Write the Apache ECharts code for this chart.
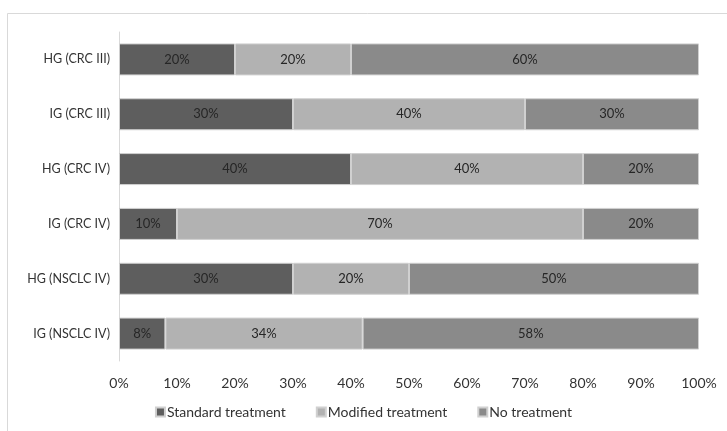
<!DOCTYPE html>
<html>
<head>
<meta charset="utf-8">
<script src="https://cdn.jsdelivr.net/npm/echarts@6/dist/echarts.min.js"></script>
<style>
  html, body { margin: 0; padding: 0; background: #fff; }
  #chart { width: 727px; height: 431px; }
</style>
</head>
<body>
<div id="chart"></div>
<script>
// Treatment distribution per group (percent of patients)
const categories = ['HG (CRC III)', 'IG (CRC III)', 'HG (CRC IV)', 'IG (CRC IV)', 'HG (NSCLC IV)', 'IG (NSCLC IV)'];
const standardTreatment = [20, 30, 40, 10, 30, 8];
const modifiedTreatment = [20, 40, 40, 70, 20, 34];
const noTreatment = [60, 30, 20, 20, 50, 58];
const seriesNames = ['Standard treatment', 'Modified treatment', 'No treatment'];
const seriesColors = ['#5e5e5e', '#b2b2b2', '#8a8a8a'];

const chart = echarts.init(document.getElementById('chart'), null, { renderer: 'canvas' });
const FONT = 'Lato, "Open Sans", sans-serif';

function barSeries(name, data, color) {
  return {
    name: name,
    type: 'bar',
    stack: 'total',
    data: data,
    barWidth: 32,
    itemStyle: { color: color, borderColor: '#d0d0d0', borderWidth: 1 },
    label: {
      show: true,
      position: 'inside',
      formatter: p => p.value + '%',
      color: '#262626',
      fontFamily: FONT,
      fontSize: 13
    },
    emphasis: { disabled: true }
  };
}

chart.setOption({
  animation: false,
  backgroundColor: '#ffffff',
  graphic: [{
    type: 'rect',
    shape: { x: 7.5, y: 13.5, width: 740, height: 440 },
    style: { fill: 'none', stroke: '#d9d9d9', lineWidth: 1 },
    silent: true
  }],
  grid: { left: 119, right: 28, top: 32, bottom: 70, containLabel: false },
  legend: {
    data: seriesNames,
    bottom: 7,
    left: 'center',
    itemWidth: 9,
    itemHeight: 9,
    itemGap: 30,
    icon: 'rect',
    textStyle: { color: '#333', fontFamily: FONT, fontSize: 14, padding: [0, 0, 0, -3] }
  },
  xAxis: {
    type: 'value',
    min: 0,
    max: 100,
    interval: 10,
    axisLabel: { formatter: v => v + '%', color: '#333', fontFamily: FONT, fontSize: 14, margin: 15 },
    axisLine: { show: false },
    axisTick: { show: false },
    splitLine: { show: false }
  },
  yAxis: {
    type: 'category',
    data: categories,
    inverse: true,
    axisLine: { show: true, lineStyle: { color: '#d9d9d9', width: 1 } },
    axisTick: { show: false },
    axisLabel: { color: '#333', fontFamily: FONT, fontSize: 12.5, margin: 9 }
  },
  series: [
    barSeries(seriesNames[0], standardTreatment, seriesColors[0]),
    barSeries(seriesNames[1], modifiedTreatment, seriesColors[1]),
    barSeries(seriesNames[2], noTreatment, seriesColors[2])
  ]
});
</script>
</body>
</html>
